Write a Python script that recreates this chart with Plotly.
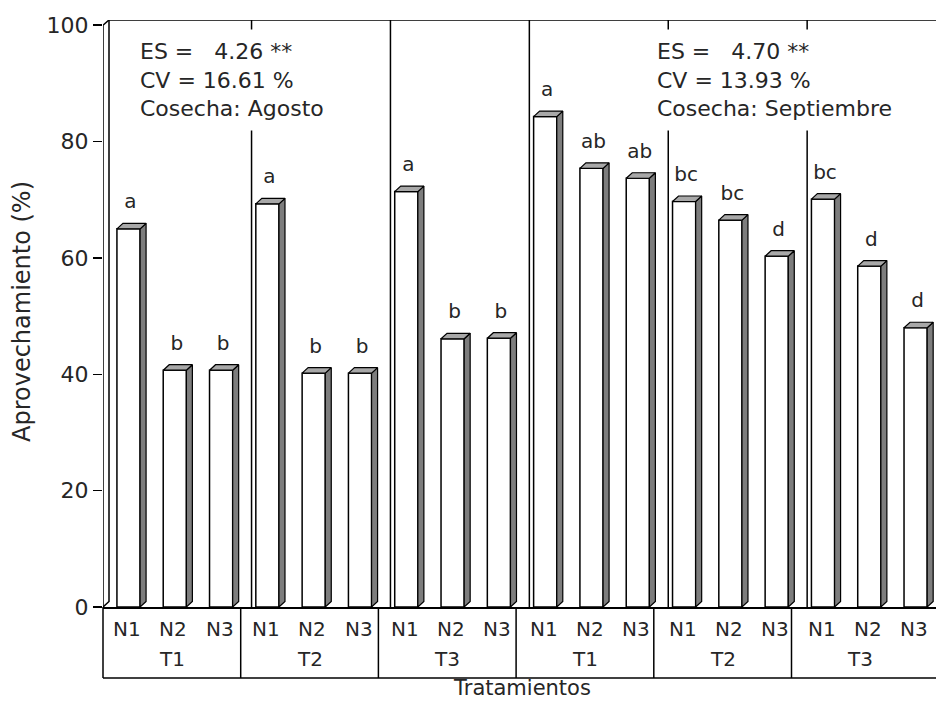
import plotly.graph_objects as go

# ---------------- data ----------------
niveles = ["N1", "N2", "N3"] * 6
tratamientos = ["T1", "T2", "T3", "T1", "T2", "T3"]
agosto = [65.0, 40.7, 40.7, 69.3, 40.2, 40.2, 71.4, 46.1, 46.2]
septiembre = [84.3, 75.4, 73.7, 69.7, 66.5, 60.3, 70.1, 58.6, 48.0]
letras_agosto = ["a", "b", "b", "a", "b", "b", "a", "b", "b"]
letras_septiembre = ["a", "ab", "ab", "bc", "bc", "d", "bc", "d", "d"]
stats_agosto = ["ES =\u00a0\u00a0\u00a04.26 **", "CV = 16.61 %", "Cosecha: Agosto"]
stats_septiembre = ["ES =\u00a0\u00a0\u00a04.70 **", "CV = 13.93 %", "Cosecha: Septiembre"]
yticks = [0, 20, 40, 60, 80, 100]

valores = agosto + septiembre
letras = letras_agosto + letras_septiembre
n = len(valores)
idx = list(range(n))

# ---------------- geometry / style ----------------
W, H = 936, 702
AX_L, AX_T, AX_B = 103, 20, 607     # plot area edges (px)
ML, MT, MB = AX_L, AX_T, H - AX_B
CAT0, PXC = 127.0, 46.3              # px centre of first category, px per category
X0 = (AX_L - CAT0) / PXC
X1 = (W - CAT0) / PXC
BOX_PX = 45.9                        # px per category for the label box under the axis
YTOP = 100.9
PX_Y = (AX_B - AX_T) / YTOP
DX = 6 / PXC           # depth in x (data units)
DY = 5.5 / PX_Y        # depth in y (data units)
BW = 0.5               # front face width
BOFF = 1.5 / PXC       # shift of bar inside its category
FONT = "DejaVu Sans"
TXT = "#262626"

def py(pix):           # px row -> paper y
    return (AX_B - pix) / (AX_B - AX_T)

def px(pix):           # px column -> paper x
    return (pix - AX_L) / (W - AX_L)

fig = go.Figure()

# back-wall separator lines between treatment groups
sx, sy = [], []
for k in range(1, 6):
    xx = 3 * k - 0.5 + 0.19
    sx += [xx, xx, None]
    sy += [0, YTOP, None]
fig.add_trace(go.Scatter(x=sx, y=sy, mode="lines", line=dict(color="black", width=1.5),
                         hoverinfo="skip", showlegend=False, cliponaxis=False))

# frame: y axis, top-left bevel, back wall, top line
fig.add_trace(go.Scatter(
    x=[X0, X0, X0 + DX, X1 + 1, None, X0 + DX, X0 + DX, X0],
    y=[0, 100, YTOP, YTOP, None, YTOP, DY, 0],
    mode="lines", line=dict(color="black", width=1.5),
    hoverinfo="skip", showlegend=False, cliponaxis=False))

# front faces of bars
fig.add_trace(go.Bar(x=idx, y=valores, width=BW, offset=-BW / 2 + BOFF,
                     marker=dict(color="white", line=dict(color="black", width=1.5)),
                     hoverinfo="skip", showlegend=False))

# side and top faces (3D effect) derived from values
side_x, side_y, top_x, top_y = [], [], [], []
for i, v in zip(idx, valores):
    xl = i - BW / 2 + BOFF
    xr = i + BW / 2 + BOFF
    side_x += [xr, xr + DX, xr + DX, xr, xr, None]
    side_y += [0, DY, v + DY, v, 0, None]
    top_x += [xl, xl + DX, xr + DX, xr, xl, None]
    top_y += [v, v + DY, v + DY, v, v, None]
fig.add_trace(go.Scatter(x=side_x, y=side_y, mode="lines", fill="toself",
                         fillcolor="#7d7d7d", line=dict(color="black", width=1.2),
                         hoverinfo="skip", showlegend=False))
fig.add_trace(go.Scatter(x=top_x, y=top_y, mode="lines", fill="toself",
                         fillcolor="#a8a8a8", line=dict(color="black", width=1.2),
                         hoverinfo="skip", showlegend=False))

# significance letters
LIFT = 10 / PX_Y
fig.add_trace(go.Scatter(x=[i + BOFF + DX / 3 for i in idx],
                         y=[v + DY + LIFT for v in valores],
                         mode="text", text=letras, textposition="top center",
                         textfont=dict(family=FONT, size=20, color=TXT),
                         hoverinfo="skip", showlegend=False, cliponaxis=False))

annotations = []
# N labels
for i, lab in zip(idx, niveles):
    annotations.append(dict(x=i, y=py(629), xref="x", yref="paper", text=lab,
                            showarrow=False, xanchor="center", yanchor="middle",
                            font=dict(family=FONT, size=20, color=TXT)))
# T labels (centred in their boxes)
for k, lab in enumerate(tratamientos):
    xc = AX_L + (3 * k + 1.5) * BOX_PX
    annotations.append(dict(x=px(xc), y=py(659), xref="paper", yref="paper", text=lab,
                            showarrow=False, xanchor="center", yanchor="middle",
                            font=dict(family=FONT, size=20, color=TXT)))
# statistics boxes
for xpix, lines in [(130, stats_agosto), (647, stats_septiembre)]:
    annotations.append(dict(x=px(xpix), y=py(29), xref="paper", yref="paper",
                            text="<br>".join(lines), align="left", showarrow=False,
                            xanchor="left", yanchor="top", bgcolor="white", borderpad=9,
                            font=dict(family=FONT, size=22, color=TXT)))
# axis titles
annotations.append(dict(x=px(522), y=py(688), xref="paper", yref="paper", text="Tratamientos",
                        showarrow=False, xanchor="center", yanchor="middle",
                        font=dict(family=FONT, size=21, color=TXT)))
annotations.append(dict(x=px(22), y=py(312), xref="paper", yref="paper",
                        text="Aprovechamiento (%)", textangle=-90, showarrow=False,
                        xanchor="center", yanchor="middle",
                        font=dict(family=FONT, size=24, color=TXT)))

# label box lines under the x axis
shapes = []
ybot = py(678)
shapes.append(dict(type="line", xref="paper", yref="paper", x0=0, x1=1.05, y0=ybot, y1=ybot,
                   line=dict(color="black", width=1.5)))
for k in range(0, 6):
    xb = px(AX_L + 3 * k * BOX_PX)
    shapes.append(dict(type="line", xref="paper", yref="paper", x0=xb, x1=xb, y0=0, y1=ybot,
                       line=dict(color="black", width=1.5)))

fig.update_layout(
    width=W, height=H,
    margin=dict(l=ML, r=0, t=MT, b=MB, pad=0),
    plot_bgcolor="white", paper_bgcolor="white",
    bargap=0, showlegend=False, hovermode=False,
    annotations=annotations, shapes=shapes,
    xaxis=dict(range=[X0, X1], showticklabels=False, ticks="", showgrid=False,
               zeroline=False, showline=True, linecolor="black", linewidth=2),
    yaxis=dict(range=[0, YTOP], tickvals=yticks, ticks="outside", ticklen=9,
               tickwidth=1.5, tickcolor="black", showgrid=False, zeroline=False,
               showline=False, tickfont=dict(family=FONT, size=22, color=TXT)),
)

fig.write_html(
    "out.html",
    config={"displayModeBar": False, "staticPlot": True},
    post_script="document.body.style.margin='0';document.body.style.overflow='hidden';",
)
